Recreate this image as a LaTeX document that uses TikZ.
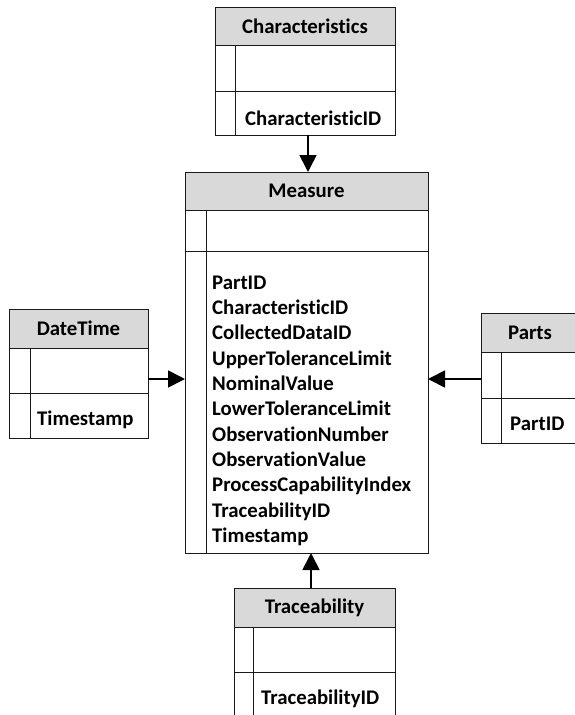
\documentclass[tikz,border=0pt]{standalone}
\usepackage{fontspec}
\setmainfont{Carlito}[Ligatures={NoCommon}]
\usetikzlibrary{arrows.meta}
\begin{document}
\begin{tikzpicture}[x=1pt,y=-1pt,
  box/.style={draw=black!90,line width=1pt,inner sep=0pt,outer sep=0pt},
  hdr/.style={box,fill=black!15,font=\fontsize{20.8}{22}\selectfont\bfseries},
  fld/.style={inner sep=0pt,anchor=base west,font=\fontsize{20.8}{22}\selectfont\bfseries},
  sep/.style={draw=black!90,line width=1pt},
  arr/.style={line width=1.7pt,-{Triangle[length=17pt,width=17pt]}}]
\useasboundingbox (0,0) rectangle (575,715);
\fill[white] (0,0) rectangle (575,715);
% Characteristics
\node[hdr,minimum width=180pt,minimum height=38pt] (charH) at (305,26) {Characteristics};
\node[box,minimum width=180pt,minimum height=46pt] (charR1) at (305,68) {};
\node[box,minimum width=180pt,minimum height=44pt] (charR2) at (305,113) {};
\draw[sep] (235,45) -- (235,135);
\node[fld] (charF) at (245,125) {CharacteristicID};
% Measure
\node[hdr,minimum width=243pt,minimum height=38pt] (measH) at (306.5,191) {Measure};
\node[box,minimum width=243pt,minimum height=41pt] (measR1) at (306.5,230.5) {};
\node[box,minimum width=243pt,minimum height=302pt] (measR2) at (306.5,402) {};
\draw[sep] (206,210) -- (206,553);
\foreach \t [count=\i] in {PartID,CharacteristicID,CollectedDataID,UpperToleranceLimit,NominalValue,LowerToleranceLimit,ObservationNumber,ObservationValue,ProcessCapabilityIndex,TraceabilityID,Timestamp}
  \node[fld] (measF\i) at (212,{289+25.35*(\i-1)}) {\t};
% DateTime
\node[hdr,minimum width=139pt,minimum height=39pt] (dtH) at (78.5,328.5) {DateTime};
\node[box,minimum width=139pt,minimum height=45pt] (dtR1) at (78.5,370.5) {};
\node[box,minimum width=139pt,minimum height=45pt] (dtR2) at (78.5,415.5) {};
\draw[sep] (30,348) -- (30,438);
\node[fld] (dtF) at (37,425) {Timestamp};
% Parts
\node[hdr,minimum width=98pt,minimum height=39pt] (ptH) at (530,332.5) {Parts};
\node[box,minimum width=98pt,minimum height=46pt] (ptR1) at (530,375) {};
\node[box,minimum width=98pt,minimum height=45pt] (ptR2) at (530,420.5) {};
\draw[sep] (501,352) -- (501,443);
\node[fld] (ptF) at (510,430) {PartID};
% Traceability
\node[hdr,minimum width=161pt,minimum height=39pt] (trH) at (314.5,607.5) {Traceability};
\node[box,minimum width=161pt,minimum height=45pt] (trR1) at (314.5,649.5) {};
\node[box,minimum width=161pt,minimum height=50pt] (trR2) at (314.5,697) {};
\draw[sep] (253,627) -- (253,722);
\node[fld] (trF) at (261,704) {TraceabilityID};
% connectors
\coordinate (cA) at ([xshift=3pt]charR2.south);
\draw[arr] (cA) -- (cA |- measH.north);
\coordinate (dA) at ([yshift=-8.5pt]dtR1.east);
\draw[arr] (dA) -- (dA -| measR2.west);
\coordinate (pA) at ([yshift=-4pt]ptR1.west);
\draw[arr] (pA) -- (pA -| measR2.east);
\coordinate (tA) at ([xshift=-3.5pt]trH.north);
\draw[arr] (tA) -- (tA |- measR2.south);
\end{tikzpicture}
\end{document}
